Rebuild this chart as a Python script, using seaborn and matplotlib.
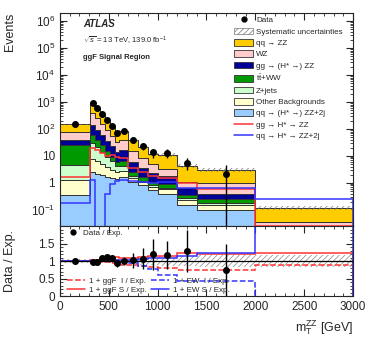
import numpy as np
import pandas as pd
import matplotlib
matplotlib.use('Agg')
import matplotlib.pyplot as plt
import seaborn as sns
from matplotlib.patches import Patch
from matplotlib.lines import Line2D
from matplotlib.ticker import MultipleLocator, FixedLocator, LogLocator, NullFormatter

# binning in mT^ZZ [GeV]
edges = [0, 310, 360, 410, 460, 510, 560, 610, 700, 800, 900, 1000, 1200, 1400, 2000, 3000]

# expected yields per bin
qqzz2j = [0.35, 2.5, 2.2, 1.9, 1.6, 1.5, 1.4, 1.6, 1.1, 0.8, 0.55, 0.4, 0.15, 0.10, 0.005]
other = [0.95, 5.0, 4.4, 3.0, 2.2, 1.5, 1.1, 1.2, 0.4, 0.25, 0.15, 0.18, 0.08, 0.05, 0.003]
zjets = [3.3, 22, 15, 9.5, 5.5, 3.4, 1.6, 1.5, 0.3, 0.15, 0.1, 0.06, 0.04, 0.03, 0.002]
ttww = [21, 30, 18, 11, 6, 3.0, 1.9, 2.2, 0.7, 0.45, 0.27, 0.24, 0.09, 0.08, 0.002]
ggzz = [13, 80, 50, 32, 20, 13, 8.5, 10, 3.6, 2.0, 1.15, 0.92, 0.29, 0.14, 0.006]
wz = [39, 250, 160, 92, 54, 32, 19, 21, 9.0, 4.9, 2.6, 1.6, 0.45, 0.6, 0.017]
qqzz = [72, 550, 365, 186, 106, 66, 41, 47, 23, 13, 6.7, 7.6, 3.2, 2.0, 0.08]

syst = [0.06, 0.05, 0.05, 0.05, 0.05, 0.06, 0.06, 0.07, 0.08, 0.1, 0.12, 0.14, 0.15, 0.16, 0.16]

data = [150, 920, 600, 360, 215, 130, 71, 85, 39, 23, 13.7, 12.9, 5.5, 2.2]
data_err = [13, 31, 25, 19, 15, 12, 8.5, 10, 8, 6.5, 5, 4.5, 2.6, 2.3]

ggf_sig = [1.6, 20, 16, 13, 10, 11, 9, 8, 3.5, 2.5, 1.8, 1.5, 1.0, 0.6, 0.025]
ew_sig = [0.18, 1.3, 0, 0, 0.4, 0.9, 1.2, 1.3, 1.2, 1.1, 1.0, 1.1, 0.67, 0.67, 0.26]
ggf_int_ratio = [1.0, 0.99, 0.98, 0.97, 0.96, 0.95, 0.93, 0.9, 0.88, 0.86, 0.83, 0.8, 0.75, 0.73, 0.9]
ew_int_ratio = [1.0, 1.0, 1.0, 1.0, 1.0, 1.0, 1.0, 0.99, 0.95, 0.87, 0.78, 0.6, 0.42, 0.42, -1.0]

names = ['qq → ZZ', 'WZ', 'gg → (H* →) ZZ', r'$\mathrm{t\bar{t}}$+WW', 'Z+jets',
         'Other Backgrounds', 'qq → (H* →) ZZ+2j']
colors = ['#ffcc00', '#ffcccc', '#000099', '#009900', '#ccffcc', '#ffffcc', '#99ccff']
yields = [qqzz, wz, ggzz, ttww, zjets, other, qqzz2j]

sns.set_style('ticks')
plt.rcParams['font.family'] = ['Liberation Sans', 'DejaVu Sans']
plt.rcParams['mathtext.fontset'] = 'custom'
plt.rcParams['mathtext.rm'] = 'Liberation Sans'
plt.rcParams['mathtext.it'] = 'Liberation Sans:italic'
plt.rcParams['mathtext.bf'] = 'Liberation Sans:bold'
plt.rcParams['hatch.linewidth'] = 0.5

edges_a = np.array(edges, dtype=float)
centers = 0.5 * (edges_a[1:] + edges_a[:-1])
total = np.sum(np.array(yields), axis=0)
syst_a = np.array(syst)

rows = []
for n, vals in zip(names, yields):
    for c, v in zip(centers, vals):
        rows.append({'x': c, 'w': v, 'proc': n})
df = pd.DataFrame(rows)

fig = plt.figure(figsize=(3.74, 3.39), dpi=100)
ax = fig.add_axes([0.16, 0.3333, 0.784, 0.6284])
ax2 = fig.add_axes([0.16, 0.1268, 0.784, 0.2065])

ax.set_yscale('log')
sns.histplot(data=df, x='x', weights='w', hue='proc', hue_order=names,
             palette=dict(zip(names, colors)), bins=edges, multiple='stack',
             element='step', fill=True, alpha=1, edgecolor='#333333',
             linewidth=0.7, legend=False, ax=ax)

ax.stairs(total * (1 + syst_a), edges, baseline=total * (1 - syst_a), fill=True,
          facecolor='none', edgecolor='#777777', hatch='//////', lw=0)
ax.stairs(ggf_sig, edges, color='#ff3333', lw=1.1)
ax.stairs(ew_sig, edges, color='#3333ff', lw=1.1)
ax.errorbar(centers[:len(data)], data, yerr=data_err, fmt='o', color='k',
            ms=4, elinewidth=1, capsize=0)

ax.set_xlim(0, 3000)
ax.set_ylim(0.025, 2e6)
ax.set_xlabel('')
ax.set_ylabel('Events', fontsize=9, loc='top')
ax.yaxis.set_major_locator(FixedLocator([0.1, 1, 10, 1e2, 1e3, 1e4, 1e5, 1e6]))
ax.set_yticklabels(['$10^{-1}$', '1', '10', '$10^{2}$', '$10^{3}$', '$10^{4}$', '$10^{5}$', '$10^{6}$'])
ax.yaxis.set_minor_locator(LogLocator(base=10, subs=np.arange(2, 10) * 1.0, numticks=20))
ax.yaxis.set_minor_formatter(NullFormatter())
ax.xaxis.set_major_locator(MultipleLocator(500))
ax.xaxis.set_minor_locator(MultipleLocator(100))
ax.tick_params(labelbottom=False)
for a in (ax, ax2):
    a.tick_params(which='both', direction='in', top=True, right=True, labelsize=8.5)
    a.tick_params(which='major', length=5)
    a.tick_params(which='minor', length=2.5)

ax.text(0.078, 0.948, 'ATLAS', transform=ax.transAxes, fontsize=7,
        fontweight='bold', fontstyle='italic', va='center')
ax.text(0.078, 0.868, r'$\sqrt{s}$ = 13 TeV, 139.0 fb$^{-1}$', transform=ax.transAxes,
        fontsize=5.5, va='center')
ax.text(0.078, 0.79, 'ggF Signal Region', transform=ax.transAxes, fontsize=5.5,
        fontweight='bold', va='center')

handles = [Line2D([], [], marker='o', color='k', ls='none', ms=3.5),
           Patch(facecolor='white', edgecolor='#777777', hatch='//////', lw=0.5)]
labels = ['Data', 'Systematic uncertainties']
for n, c in zip(names, colors):
    handles.append(Patch(facecolor=c, edgecolor='#333333', lw=0.6))
    labels.append(n)
handles += [Line2D([], [], color='#ff3333', lw=1.1), Line2D([], [], color='#3333ff', lw=1.1)]
labels += ['gg → H* → ZZ', 'qq → H* → ZZ+2j']
ax.legend(handles, labels, loc='upper left', bbox_to_anchor=(0.595, 0.985), frameon=False,
          fontsize=5.8, handlelength=2.3, handleheight=0.9, handletextpad=0.4,
          labelspacing=0.4, borderpad=0, borderaxespad=0)

# ratio panel
data_a = np.array(data)
n = len(data)
ax2.stairs(1 + syst_a, edges, baseline=1 - syst_a, fill=True, facecolor='none',
           edgecolor='#888888', hatch='//////', lw=0)
ax2.axhline(1, color='k', lw=0.9)
ax2.stairs(ggf_int_ratio, edges, color='#ff3333', ls='--', lw=1.1)
ax2.stairs(1 + np.array(ggf_sig) / total, edges, color='#ff3333', lw=1.1)
ax2.stairs(ew_int_ratio, edges, color='#3333ff', ls='--', lw=1.1)
ax2.stairs(1 + np.array(ew_sig) / total, edges, color='#3333ff', lw=1.1)
ax2.errorbar(centers[:n], data_a / total[:n], yerr=np.array(data_err) / total[:n],
             fmt='o', color='k', ms=4, elinewidth=1, capsize=0)
ax2.set_xlim(0, 3000)
ax2.set_ylim(0, 2)
ax2.yaxis.set_major_locator(FixedLocator([0, 0.5, 1, 1.5]))
ax2.set_yticklabels(['0', '0.5', '1', '1.5'])
ax2.yaxis.set_minor_locator(MultipleLocator(0.1))
ax2.xaxis.set_major_locator(MultipleLocator(500))
ax2.xaxis.set_minor_locator(MultipleLocator(100))
ax2.set_ylabel('Data / Exp.', fontsize=9)
ax2.set_xlabel(r'm$_{\rm T}^{\rm ZZ}$ [GeV]', fontsize=9, loc='right')

leg1 = ax2.legend([Line2D([], [], marker='o', color='k', ls='none', ms=3.5)], ['Data / Exp.'],
                  loc='upper left', bbox_to_anchor=(0.03, 0.95), frameon=False, fontsize=5.8,
                  handlelength=1.0, handletextpad=0.8, borderpad=0, borderaxespad=0)
ax2.add_artist(leg1)
ax2.legend([Line2D([], [], color='#ff3333', ls='--', lw=1.1), Line2D([], [], color='#ff3333', lw=1.1),
            Line2D([], [], color='#3333ff', ls='--', lw=1.1), Line2D([], [], color='#3333ff', lw=1.1)],
           ['1 + ggF  I / Exp.', '1 + ggF S / Exp.', '1 + EW  I / Exp.', '1 + EW S / Exp.'],
           loc='lower left', bbox_to_anchor=(0.025, 0.03), ncol=2, frameon=False, fontsize=5.8,
           handlelength=2.2, handletextpad=0.5, columnspacing=0.5, labelspacing=0.15,
           borderpad=0, borderaxespad=0)

ax.yaxis.set_label_coords(-0.15, 1.0)
ax2.yaxis.set_label_coords(-0.15, 0.5)

fig.savefig('out.png', dpi=100)
